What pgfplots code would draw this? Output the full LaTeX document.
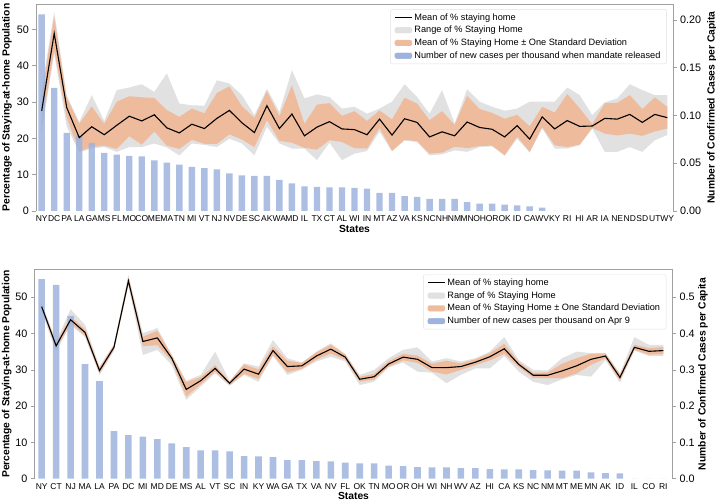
\documentclass[border=0pt]{standalone}
\usepackage{fontspec}
\setmainfont{Liberation Sans}
\usepackage{pgfplots}
\usepackage{pgfplotstable}
\pgfplotsset{compat=1.18}
\usepgfplotslibrary{fillbetween}

\definecolor{rangegray}{HTML}{E1E1E1}
\definecolor{sdorange}{HTML}{EFBB9D}
\definecolor{barblue}{HTML}{9DB3DD}
\definecolor{framegray}{HTML}{A0A0A0}

% top panel: states ordered by new cases when mandate released
\pgfplotstableread{
x bar mean shi slo rhi rlo
0 0.206 27.6 32.1 23.1 33.5 21.5
1 0.129 48.9 53.5 44.3 54.9 43.4
2 0.0818 28.5 31.3 25.7 31.8 23.2
3 0.079 20.2 24.0 16.4 24.5 16.2
4 0.0713 23.2 28.8 17.6 31.9 17.2
5 0.0608 21.0 24.0 18.0 24.8 17.6
6 0.0591 23.6 30.1 17.1 33.3 16.3
7 0.0577 26.1 31.6 20.6 34.0 17.6
8 0.0573 24.8 31.3 18.3 34.9 17.6
9 0.0531 26.5 31.1 21.9 32.8 18.6
10 0.0507 22.9 27.8 18.0 37.9 17.5
11 0.0486 21.5 25.9 17.1 29.6 15.3
12 0.0462 23.9 28.2 19.6 29.1 18.6
13 0.0448 22.7 26.9 18.5 29.0 18.2
14 0.0437 25.5 32.5 18.5 36.0 17.6
15 0.0395 27.7 34.3 21.1 35.1 19.9
16 0.0374 24.3 28.9 19.7 31.9 18.6
17 0.0367 21.6 25.6 17.6 26.4 15.3
18 0.0367 29.0 33.0 25.0 33.7 23.2
19 0.0325 22.7 26.1 19.3 27.3 18.6
20 0.0290 26.7 34.6 18.8 38.8 17.2
21 0.0259 20.7 24.0 17.4 31.0 17.2
22 0.0252 23.1 29.3 16.9 32.1 14.0
23 0.0248 24.6 29.7 19.5 31.4 18.8
24 0.0248 22.6 26.2 19.0 28.2 14.0
25 0.0241 22.4 27.5 17.3 28.7 15.8
26 0.0234 21.0 24.8 17.2 26.8 16.5
27 0.0189 25.3 27.7 22.9 28.2 21.8
28 0.0189 20.9 25.2 16.6 30.1 16.4
29 0.0157 25.4 31.2 19.6 34.9 19.4
30 0.0147 24.4 29.6 19.2 31.4 19.0
31 0.0126 20.4 25.0 15.8 26.8 15.3
32 0.0126 21.8 27.5 16.1 33.3 15.6
33 0.0126 20.7 23.7 17.7 24.1 16.7
34 0.0094 24.5 31.7 17.3 33.5 16.3
35 0.0077 23.0 28.1 17.9 30.1 17.6
36 0.0077 22.5 27.0 18.0 28.7 17.8
37 0.0066 20.4 25.4 15.4 27.6 15.2
38 0.0059 23.5 26.5 20.5 28.2 19.9
39 0.0049 19.8 23.3 16.3 30.1 16.1
40 0.0035 25.9 28.7 23.1 30.1 22.7
41 0 22.6 27.1 18.1 30.1 17.2
42 0 24.9 32.2 17.6 34.0 17.2
43 0 23.3 28.3 18.3 31.9 18.1
44 0 23.4 23.9 22.9 26.4 22.7
45 0 25.5 29.7 21.3 29.9 16.3
46 0 25.3 29.8 20.8 31.0 16.3
47 0 26.6 31.9 21.3 34.9 17.6
48 0 24.4 28.1 20.7 33.3 16.3
49 0 26.6 31.3 21.9 31.9 19.5
50 0 25.7 28.7 22.7 31.9 20.9
}\topdata

% bottom panel: states ordered by new cases on Apr 9
\pgfplotstableread{
x bar mean shi slo rhi rlo
0 0.550 47.4 48.0 46.8 48.5 46.0
1 0.534 36.6 37.5 35.7 37.8 35.0
2 0.4485 43.8 44.7 42.9 46.7 42.4
3 0.316 40.3 41.2 39.4 42.4 39.0
4 0.269 29.8 30.6 29.0 30.9 28.6
5 0.131 36.2 36.9 35.5 37.0 35.3
6 0.120 54.5 55.5 53.5 56.2 53.3
7 0.116 37.8 39.1 36.5 40.1 34.1
8 0.109 38.8 40.8 36.8 41.5 35.5
9 0.0974 33.2 34.0 32.4 34.1 31.3
10 0.0873 24.6 26.6 22.6 27.0 21.7
11 0.078 27.0 28.0 26.0 28.6 25.4
12 0.078 30.4 31.3 29.5 35.0 29.0
13 0.075 26.3 26.8 25.8 26.9 25.6
14 0.0625 30.2 31.5 28.9 31.8 28.6
15 0.0616 28.8 30.1 27.5 30.9 26.7
16 0.0597 35.3 36.5 34.1 38.2 33.8
17 0.0515 30.9 32.5 29.3 33.2 28.6
18 0.0515 31.1 31.9 30.3 32.0 30.0
19 0.0487 33.8 34.8 32.8 35.0 32.3
20 0.0478 35.7 36.9 34.5 37.3 33.6
21 0.0441 33.5 34.2 32.8 34.4 32.3
22 0.0423 27.4 28.1 26.7 28.6 25.8
23 0.0423 28.1 28.9 27.3 30.0 26.7
24 0.0358 31.6 32.4 30.8 33.2 30.7
25 0.0349 33.5 34.4 32.6 35.5 32.0
26 0.0322 32.9 33.9 31.9 36.2 29.5
27 0.0312 30.6 31.7 29.5 32.3 29.2
28 0.0312 30.6 32.5 28.7 33.2 26.3
29 0.0294 30.9 31.8 30.0 32.3 28.6
30 0.0294 32.1 32.9 31.3 33.2 30.4
31 0.0267 33.6 34.6 32.6 35.0 30.4
32 0.0257 35.8 37.2 34.4 39.0 33.8
33 0.0257 31.5 32.2 30.8 32.7 29.5
34 0.0239 28.5 29.2 27.8 30.0 26.7
35 0.0230 28.5 29.3 27.7 29.8 25.8
36 0.0221 29.7 31.7 27.7 33.2 27.4
37 0.0221 31.1 33.2 29.0 35.0 28.6
38 0.0175 32.9 34.4 31.4 34.6 28.1
39 0.0156 33.8 34.5 33.1 34.7 32.7
40 0.0147 27.9 28.8 27.0 28.9 26.5
41 0 36.2 36.9 35.5 39.0 35.3
42 0 35.1 36.0 34.2 36.9 33.8
43 0 35.3 36.3 34.3 36.9 33.8
}\botdata

\pgfplotsset{
  panel/.style={scale only axis, anchor=south west,
    /pgf/number format/assume math mode=true,
    tick label style={font=\fontsize{10.8}{12}\selectfont},
    label style={font=\bfseries\fontsize{10.3}{12}\selectfont},
    tick align=outside, major tick length=3.5pt,
    tick style={framegray, line width=0.6pt}},
  leftax/.style={panel, axis y line*=left, axis x line*=bottom,
    x axis line style={draw=none}, y axis line style={framegray, line width=0.8pt},
    ymin=0, ytick={0,10,...,50}, xtick style={draw=none},
    x tick label style={font=\fontsize{8.5}{10}\selectfont, inner sep=1pt},
    every axis y label/.style={at={(axis description cs:#1,0.5)}, rotate=90, anchor=center,
      font=\bfseries\fontsize{10.3}{12}\selectfont}},
  rightax/.style={panel, axis y line*=right, axis x line*=top, xtick=\empty,
    axis line style={framegray, line width=0.8pt}, ymin=0,
    every axis y label/.style={at={(axis description cs:#1,0.5)}, rotate=90, anchor=center,
      font=\bfseries\fontsize{10.3}{12}\selectfont},
    legend style={draw=black!12, rounded corners=2pt, fill=white,
      font=\fontsize{9.2}{11}\selectfont, inner xsep=4pt, inner ysep=2pt,
      row sep=0.6pt, cells={anchor=west}}},
  lgline/.style={legend image code/.code={\draw[##1] (0pt,0pt) -- (17pt,0pt);}},
  lgarea/.style={legend image code/.code={\fill[##1] (0pt,-2.8pt) rectangle (17pt,2.8pt);}},
}

\begin{document}
\begin{tikzpicture}

% ---------------- top panel ----------------
\begin{axis}[leftax=-0.0455, at={(0pt,0pt)}, width=637pt, height=207pt,
  xmin=-0.455, xmax=50.455, ymax=57,
  xtick={0,...,50},
  xticklabels={NY,DC,PA,LA,GA,MS,FL,MO,CO,ME,MA,TN,MI,VT,NJ,NV,DE,SC,AK,WA,MD,IL,TX,CT,AL,WI,IN,MT,AZ,VA,KS,NC,NH,NM,MN,OH,OR,OK,ID,CA,WV,KY,RI,HI,AR,IA,NE,ND,SD,UT,WY},
  ylabel={Percentage of Staying-at-home Population},
  xlabel={States},
  xlabel style={at={(axis description cs:0.5,-0.089)}, anchor=center}]
\addplot[name path=rhi, draw=none] table[x=x,y=rhi]{\topdata};
\addplot[name path=rlo, draw=none] table[x=x,y=rlo]{\topdata};
\addplot[rangegray] fill between[of=rhi and rlo];
\addplot[name path=shi, draw=none] table[x=x,y=shi]{\topdata};
\addplot[name path=slo, draw=none] table[x=x,y=slo]{\topdata};
\addplot[sdorange] fill between[of=shi and slo];
\end{axis}

\begin{axis}[rightax=1.061, at={(0pt,0pt)}, width=637pt, height=207pt,
  xmin=-0.455, xmax=50.455, ymax=0.2168,
  ytick={0,0.05,...,0.21},
  yticklabel style={/pgf/number format/.cd, fixed, fixed zerofill, precision=2},
  ylabel={Number of Confirmed Cases per Capita},
  legend style={at={(0.99,0.975)}, anchor=north east}]
\addplot[ybar, bar width=6.4pt, fill=barblue, draw=none, fill opacity=0.85, forget plot]
  table[x=x,y=bar]{\topdata};
\addlegendimage{lgline, black, line width=1.1pt}
\addlegendimage{lgarea, rangegray}
\addlegendimage{lgarea, sdorange}
\addlegendimage{lgarea, barblue}
\legend{Mean of \% staying home, Range of \% Staying Home,
  Mean of \% Staying Home ± One Standard Deviation,
  Number of new cases per thousand when mandate released}
\end{axis}

\begin{axis}[scale only axis, anchor=south west, hide axis, at={(0pt,0pt)},
  width=637pt, height=207pt, xmin=-0.455, xmax=50.455, ymin=0, ymax=57]
\addplot[black, line width=1.1pt] table[x=x,y=mean]{\topdata};
\end{axis}

% ---------------- bottom panel ----------------
\begin{axis}[leftax=-0.0432, at={(-1.7pt,-267.7pt)}, width=638.4pt, height=209.4pt,
  xmin=-0.51, xmax=43.65, ymax=57.7,
  xtick={0,...,43},
  xticklabels={NY,CT,NJ,MA,LA,PA,DC,MI,MD,DE,MS,AL,VT,SC,IN,KY,WA,GA,TX,VA,NV,FL,OK,TN,MO,OR,OH,WI,NH,WV,AZ,HI,CA,KS,NC,NM,MT,ME,MN,AK,ID,IL,CO,RI},
  ylabel={Percentage of Staying-at-home Population},
  xlabel={States},
  xlabel style={at={(axis description cs:0.5,-0.081)}, anchor=center}]
\addplot[name path=rhi, draw=none] table[x=x,y=rhi]{\botdata};
\addplot[name path=rlo, draw=none] table[x=x,y=rlo]{\botdata};
\addplot[rangegray] fill between[of=rhi and rlo];
\addplot[name path=shi, draw=none] table[x=x,y=shi]{\botdata};
\addplot[name path=slo, draw=none] table[x=x,y=slo]{\botdata};
\addplot[sdorange] fill between[of=shi and slo];
\end{axis}

\begin{axis}[rightax=1.0475, at={(-1.7pt,-267.7pt)}, width=638.4pt, height=209.4pt,
  xmin=-0.51, xmax=43.65, ymax=0.577,
  ytick={0,0.1,...,0.51},
  yticklabel style={/pgf/number format/.cd, fixed, fixed zerofill, precision=1},
  ylabel={Number of Confirmed Cases per Capita},
  legend style={at={(0.99,0.975)}, anchor=north east}]
\addplot[ybar, bar width=6.6pt, fill=barblue, draw=none, fill opacity=0.85, forget plot]
  table[x=x,y=bar]{\botdata};
\addlegendimage{lgline, black, line width=1.1pt}
\addlegendimage{lgarea, rangegray}
\addlegendimage{lgarea, sdorange}
\addlegendimage{lgarea, barblue}
\legend{Mean of \% staying home, Range of \% Staying Home,
  Mean of \% Staying Home ± One Standard Deviation,
  Number of new cases per thousand on Apr 9}
\end{axis}

\begin{axis}[scale only axis, anchor=south west, hide axis, at={(-1.7pt,-267.7pt)},
  width=638.4pt, height=209.4pt, xmin=-0.51, xmax=43.65, ymin=0, ymax=57.7]
\addplot[black, line width=1.1pt] table[x=x,y=mean]{\botdata};
\end{axis}

\pgfresetboundingbox
\path[use as bounding box] (-36pt,-291pt) rectangle (680pt,211pt);
\end{tikzpicture}
\end{document}
